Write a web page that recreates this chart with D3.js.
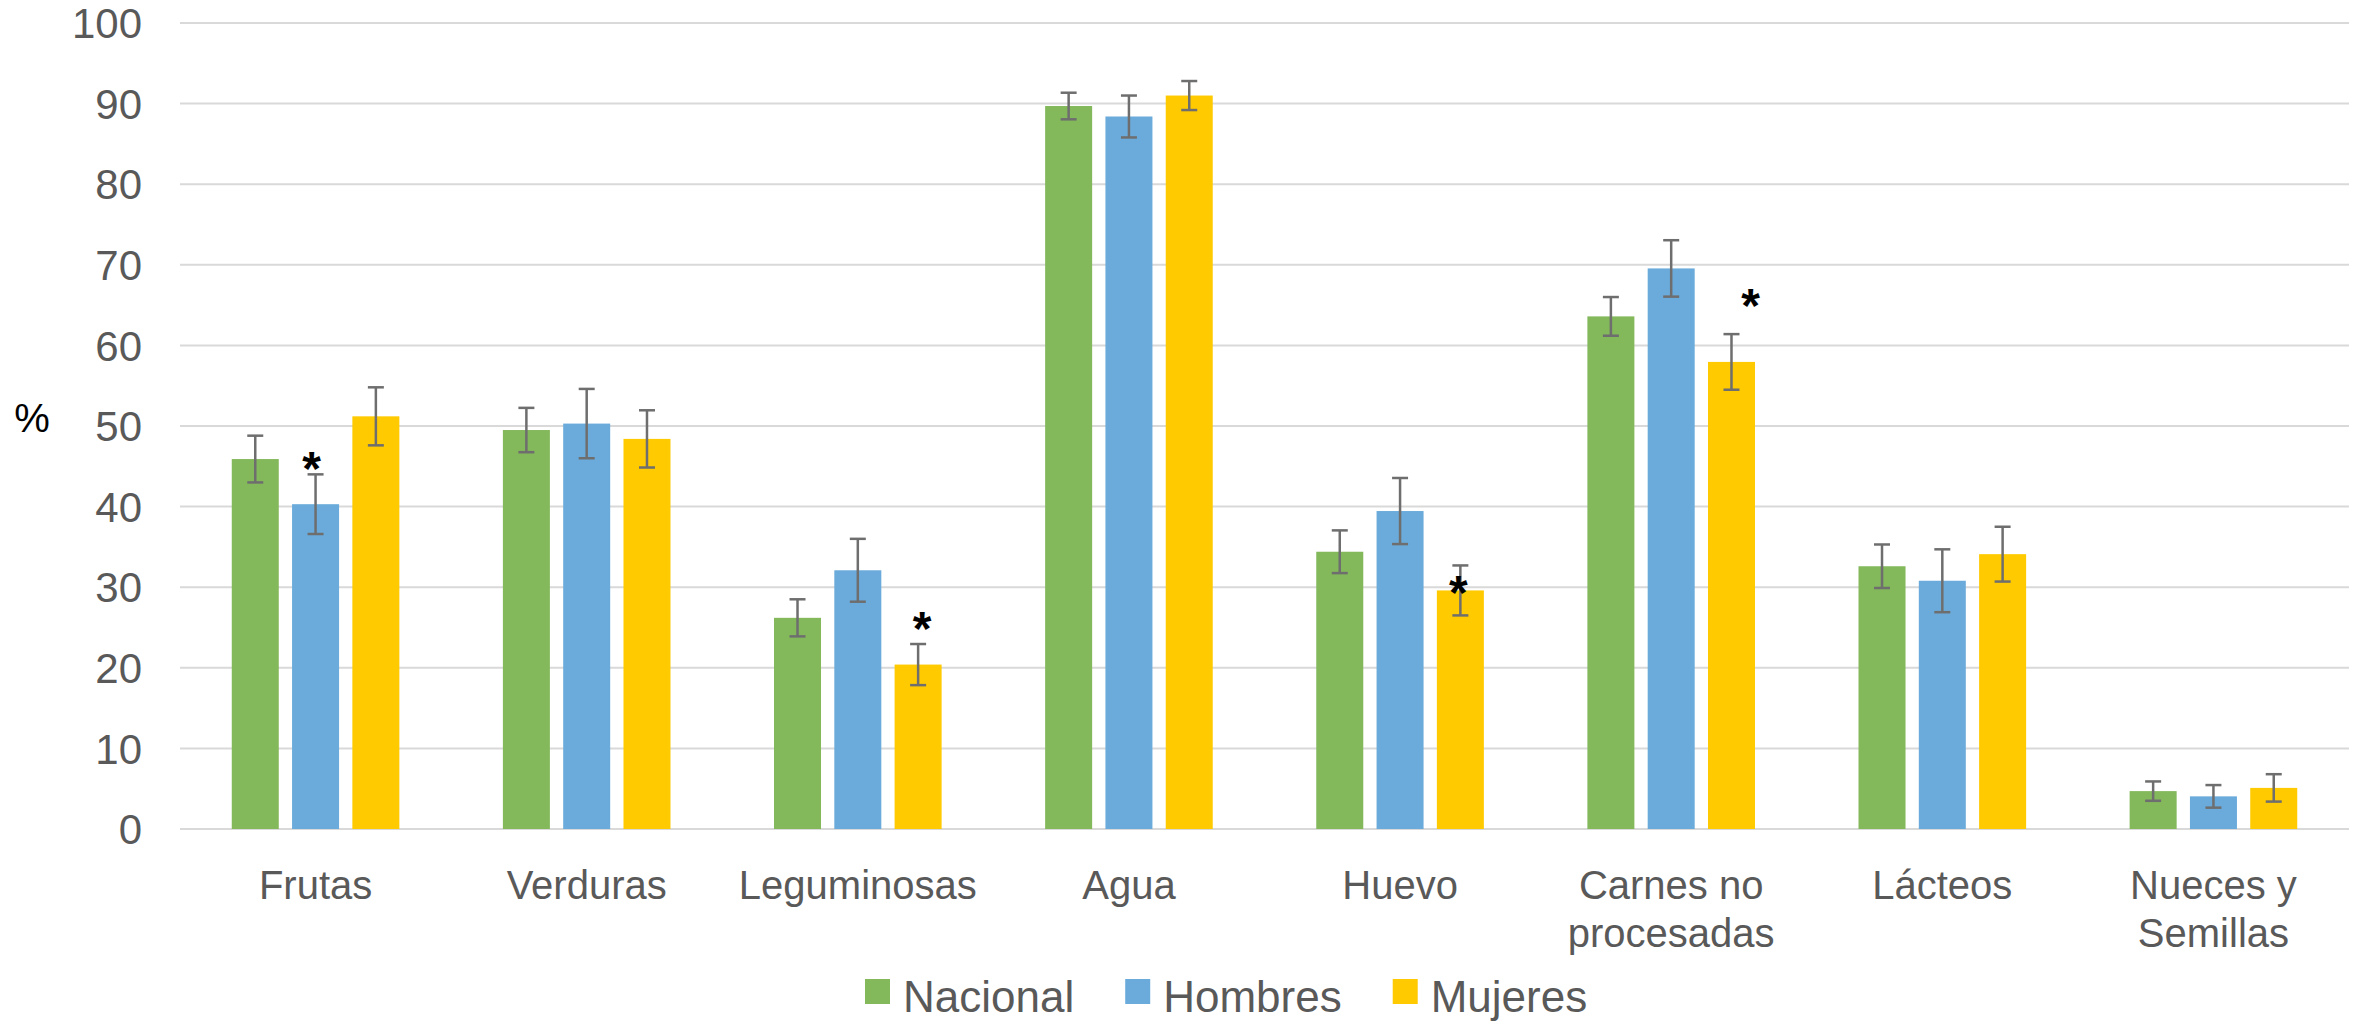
<!DOCTYPE html>
<html>
<head>
<meta charset="utf-8">
<script src="https://cdn.jsdelivr.net/npm/d3@7"></script>
<style>
  html, body { margin: 0; padding: 0; background: #ffffff; }
  svg { display: block; }
</style>
</head>
<body>
<script>
// ---------------- DATA ----------------
const categories = ["Frutas", "Verduras", "Leguminosas", "Agua", "Huevo", "Carnes no procesadas", "Lácteos", "Nueces y Semillas"];
const categoryLines = [["Frutas"], ["Verduras"], ["Leguminosas"], ["Agua"], ["Huevo"], ["Carnes no", "procesadas"], ["Lácteos"], ["Nueces y", "Semillas"]];
const seriesNames = ["Nacional", "Hombres", "Mujeres"];
const nacional    = [45.9, 49.5, 26.2, 89.7, 34.4, 63.6, 32.6, 4.7];
const nacionalErr = [2.9, 2.75, 2.3, 1.65, 2.65, 2.4, 2.7, 1.2];
const hombres     = [40.3, 50.3, 32.1, 88.4, 39.45, 69.55, 30.8, 4.05];
const hombresErr  = [3.7, 4.3, 3.9, 2.6, 4.1, 3.5, 3.9, 1.4];
const mujeres     = [51.2, 48.4, 20.4, 91.0, 29.6, 57.95, 34.1, 5.1];
const mujeresErr  = [3.6, 3.55, 2.55, 1.8, 3.1, 3.45, 3.4, 1.7];
const yTicks = [0, 10, 20, 30, 40, 50, 60, 70, 80, 90, 100];
// significance marks: category, series, level (in %)
const sigCategory = ["Frutas", "Leguminosas", "Huevo", "Carnes no procesadas"];
const sigSeries   = ["Hombres", "Mujeres", "Mujeres", "Mujeres"];
const sigLevel    = [45.9, 26.1, 30.5, 66.1];
const yLabel = "%";

// ---------------- LAYOUT ----------------
const W = 2361, H = 1021;
const plotLeft = 180, plotRight = 2349, plotTop = 23, plotBottom = 829;
const colors = { "Nacional": "#83B85B", "Hombres": "#6BABDB", "Mujeres": "#FFCA00" };
const textGrey = "#595959";
const font = "'Liberation Sans', Arial, sans-serif";

const values = { "Nacional": nacional, "Hombres": hombres, "Mujeres": mujeres };
const errs = { "Nacional": nacionalErr, "Hombres": hombresErr, "Mujeres": mujeresErr };

const svg = d3.select("body").append("svg").attr("width", W).attr("height", H);

const x0 = d3.scaleBand().domain(categories).range([plotLeft, plotRight]).padding(0);
const x1 = d3.scaleBand().domain(seriesNames).range([-83.8, 83.8]).paddingInner(0.2206).paddingOuter(0);
const y = d3.scaleLinear().domain([0, 100]).range([plotBottom, plotTop]);

// gridlines
svg.append("g").selectAll("line").data(yTicks).join("line")
  .attr("x1", plotLeft).attr("x2", plotRight)
  .attr("y1", d => y(d)).attr("y2", d => y(d))
  .attr("stroke", "#d9d9d9").attr("stroke-width", 2);

// y axis labels
const yAxis = d3.axisLeft(y).tickValues(yTicks).tickSize(0).tickPadding(0).tickFormat(d3.format("d"));
const ya = svg.append("g").attr("transform", "translate(142,0)").call(yAxis);
ya.select(".domain").remove();
ya.selectAll("text").attr("font-family", font).attr("font-size", 42).attr("fill", textGrey)
  .attr("dy", "0.35em").attr("text-anchor", "end");

// y label
svg.append("text").attr("x", 32).attr("y", 432).attr("text-anchor", "middle")
  .attr("font-family", font).attr("font-size", 40).attr("fill", "#000").text(yLabel);

// bars
const flat = [];
categories.forEach((c, i) => seriesNames.forEach(s => flat.push({ c, s, v: values[s][i], e: errs[s][i] })));

const gBars = svg.append("g");
gBars.selectAll("rect").data(flat).join("rect")
  .attr("x", d => x0(d.c) + x0.bandwidth() / 2 + x1(d.s))
  .attr("y", d => y(d.v))
  .attr("width", x1.bandwidth())
  .attr("height", d => y(0) - y(d.v))
  .attr("fill", d => colors[d.s]);

// error bars
const errColor = "#6e6e6e";
const cap = 8;
const gErr = svg.append("g").attr("stroke", errColor).attr("stroke-width", 2.5);
flat.forEach(d => {
  const cx = x0(d.c) + x0.bandwidth() / 2 + x1(d.s) + x1.bandwidth() / 2;
  gErr.append("line").attr("x1", cx).attr("x2", cx).attr("y1", y(d.v + d.e)).attr("y2", y(d.v - d.e));
  gErr.append("line").attr("x1", cx - cap).attr("x2", cx + cap).attr("y1", y(d.v + d.e)).attr("y2", y(d.v + d.e));
  gErr.append("line").attr("x1", cx - cap).attr("x2", cx + cap).attr("y1", y(d.v - d.e)).attr("y2", y(d.v - d.e));
});

// significance asterisks
const sigDx = [-4, 4, -2, 19];
sigCategory.forEach((c, i) => {
  const cx = x0(c) + x0.bandwidth() / 2 + x1(sigSeries[i]) + x1.bandwidth() / 2 + sigDx[i];
  svg.append("text").attr("x", cx).attr("y", y(sigLevel[i]) + 26)
    .attr("text-anchor", "middle").attr("font-family", font).attr("font-weight", "bold")
    .attr("font-size", 48).attr("fill", "#000").text("*");
});

// category labels
const gCat = svg.append("g");
categories.forEach((c, i) => {
  const cx = x0(c) + x0.bandwidth() / 2;
  categoryLines[i].forEach((line, j) => {
    gCat.append("text").attr("x", cx).attr("y", 899 + j * 48)
      .attr("text-anchor", "middle").attr("font-family", font).attr("font-size", 40)
      .attr("fill", textGrey).text(line);
  });
});

// legend
const gLeg = svg.append("g");
let lx = 865;
seriesNames.forEach(s => {
  gLeg.append("rect").attr("x", lx).attr("y", 979).attr("width", 25).attr("height", 25).attr("fill", colors[s]);
  const t = gLeg.append("text").attr("x", lx + 38).attr("y", 1012)
    .attr("font-family", font).attr("font-size", 44).attr("fill", textGrey).text(s);
  lx = lx + 38 + t.node().getComputedTextLength() + 51;
});
</script>
</body>
</html>
